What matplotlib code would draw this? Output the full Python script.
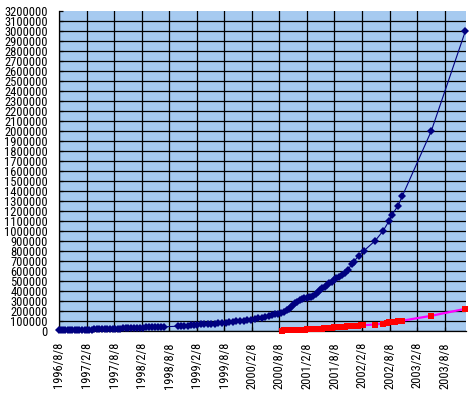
#!/usr/bin/env python
# -*- coding: utf-8 -*-
"""Recreate the two-series growth chart (Excel-style date axis) and export out.png."""

from datetime import date

import matplotlib

matplotlib.use("Agg")
import matplotlib.pyplot as plt

FONT_FAMILY = ["Roboto Condensed", "Archivo Narrow", "DejaVu Sans"]
FONT_SIZE = 9.0
PLOT_BG = "#A6CAF0"

# ---- data ----
BLUE_DATES = [
    "1996-08-08", "1996-08-20", "1996-09-05", "1996-09-20", "1996-10-05", "1996-10-20",
    "1996-11-05", "1996-11-20", "1996-12-05", "1996-12-20", "1997-01-08", "1997-01-25",
    "1997-02-10", "1997-02-25", "1997-03-12", "1997-03-28", "1997-04-15", "1997-05-01",
    "1997-05-20", "1997-06-08", "1997-06-25", "1997-07-12", "1997-07-30", "1997-08-15",
    "1997-09-01", "1997-09-18", "1997-10-05", "1997-10-25", "1997-11-10", "1997-11-28",
    "1997-12-15", "1998-01-05", "1998-01-25", "1998-02-15", "1998-03-05", "1998-03-25",
    "1998-04-15", "1998-05-05", "1998-05-25", "1998-06-15", "1998-07-05",
    "1998-10-05", "1998-10-25", "1998-11-15", "1998-12-08", "1998-12-28", "1999-01-20",
    "1999-02-10", "1999-03-05", "1999-03-28", "1999-04-20", "1999-05-15", "1999-06-08",
    "1999-07-01", "1999-07-25", "1999-08-18", "1999-09-10", "1999-10-05", "1999-10-28",
    "1999-11-20", "1999-12-15", "2000-01-08", "2000-02-01", "2000-02-25", "2000-03-20",
    "2000-04-12", "2000-05-05", "2000-05-28", "2000-06-20", "2000-07-12", "2000-08-01",
    "2000-08-20", "2000-09-08", "2000-09-25", "2000-10-10", "2000-10-25", "2000-11-08",
    "2000-11-22", "2000-12-05", "2000-12-20", "2001-01-05", "2001-01-20", "2001-02-05",
    "2001-02-20", "2001-03-08", "2001-03-22", "2001-04-05", "2001-04-20", "2001-05-05",
    "2001-05-20", "2001-06-05", "2001-06-20", "2001-07-05", "2001-07-20", "2001-08-05",
    "2001-08-20", "2001-09-05", "2001-09-25", "2001-10-15", "2001-11-08", "2001-12-01",
    "2001-12-15", "2002-01-15", "2002-02-20", "2002-05-05", "2002-06-26", "2002-08-06",
    "2002-08-26", "2002-10-04", "2002-11-02", "2003-05-12", "2003-12-24",
]
BLUE_VALUES = [
    8000, 9000, 9000, 10000, 10000, 11000,
    11000, 12000, 12000, 13000, 13000, 14000,
    14000, 15000, 15000, 16000, 18000, 19000,
    20000, 20000, 21000, 22000, 22000, 23000,
    24000, 25000, 26000, 28000, 30000, 31000,
    32000, 33000, 34000, 35000, 36000, 37000,
    38000, 39000, 40000, 41000, 42000,
    48000, 50000, 52000, 55000, 57000, 60000,
    63000, 66000, 68000, 70000, 72000, 75000,
    78000, 80000, 84000, 88000, 92000, 96000,
    100000, 105000, 110000, 115000, 122000, 128000,
    135000, 142000, 150000, 158000, 166000, 175000,
    185000, 195000, 208000, 222000, 240000, 258000,
    278000, 295000, 310000, 322000, 332000, 335000,
    340000, 345000, 355000, 372000, 392000, 410000,
    428000, 445000, 462000, 478000, 495000, 512000,
    530000, 545000, 562000, 585000, 612000, 675000,
    695000, 752000, 803000, 903000, 1000000, 1103000,
    1165000, 1255000, 1353000, 2000000, 3000000,
]

RED_DATES = [
    "2000-08-25", "2000-09-10", "2000-09-25", "2000-10-10", "2000-10-25", "2000-11-10",
    "2000-11-25", "2000-12-10", "2000-12-25", "2001-01-10", "2001-01-25", "2001-02-10",
    "2001-02-25", "2001-03-12", "2001-03-28", "2001-04-12", "2001-04-28", "2001-05-15",
    "2001-06-01", "2001-06-18", "2001-07-05", "2001-07-22", "2001-08-08", "2001-08-25",
    "2001-09-10", "2001-09-28", "2001-10-15", "2001-11-01", "2001-11-18", "2001-12-05",
    "2001-12-22", "2002-01-10", "2002-01-28", "2002-02-13", "2002-05-05", "2002-06-28",
    "2002-07-20", "2002-08-02", "2002-08-25", "2002-09-16", "2002-10-05", "2002-10-31",
    "2003-05-12", "2003-12-24",
]
RED_VALUES = [
    5000, 6000, 7000, 8000, 9000, 10000,
    11000, 12000, 13000, 14000, 15000, 16000,
    17000, 18000, 19000, 20000, 22000, 24000,
    26000, 28000, 30000, 33000, 36000, 38000,
    40000, 42000, 44000, 46000, 48000, 50000,
    52000, 54000, 56000, 58000, 65000, 75000,
    82000, 87000, 92000, 95000, 98000, 103000,
    152000, 222000,
]

X_TICK_LABELS = [
    "1996/8/8", "1997/2/8", "1997/8/8", "1998/2/8", "1998/8/8", "1999/2/8",
    "1999/8/8", "2000/2/8", "2000/8/8", "2001/2/8", "2001/8/8", "2002/2/8",
    "2002/8/8", "2003/2/8", "2003/8/8",
]
Y_TICKS = list(range(0, 3200001, 100000))
X_START = "1996-08-08"
X_END = "2003-12-28"


def to_dates(strings):
    return [date.fromisoformat(s) for s in strings]


def label_to_date(label):
    y, m, d = (int(p) for p in label.split("/"))
    return date(y, m, d)


def main() -> None:
    plt.rcParams["font.family"] = FONT_FAMILY
    plt.rcParams["font.size"] = FONT_SIZE

    fig = plt.figure(figsize=(4.71, 3.97), dpi=100)
    ax = fig.add_axes([59 / 471, (397 - 331) / 397, 407 / 471, 320 / 397])
    ax.set_facecolor(PLOT_BG)

    ax.plot(
        to_dates(BLUE_DATES), BLUE_VALUES,
        color="#000080", linewidth=0.8, marker="D", markersize=4.2,
        markeredgewidth=0, zorder=4, clip_on=False,
    )
    ax.plot(
        to_dates(RED_DATES), RED_VALUES,
        color="#FF00FF", linewidth=1.6, marker="s", markersize=4.4,
        markerfacecolor="#FF0000", markeredgewidth=0, zorder=5, clip_on=False,
    )

    ax.set_xlim(date.fromisoformat(X_START), date.fromisoformat(X_END))
    ax.set_ylim(0, Y_TICKS[-1])

    xticks = [label_to_date(t) for t in X_TICK_LABELS]
    ax.set_xticks(xticks)
    ax.set_xticklabels(X_TICK_LABELS, rotation=90)
    ax.set_yticks(Y_TICKS)
    ax.set_yticklabels([str(v) for v in Y_TICKS])

    ax.set_axisbelow(True)
    ax.grid(True, color="black", linewidth=0.9)
    # Excel draws no gridline along the top edge
    ax.yaxis.get_major_ticks()[-1].gridline.set_visible(False)

    for side in ("top", "right"):
        ax.spines[side].set_visible(False)
    for side in ("left", "bottom"):
        ax.spines[side].set_linewidth(0.9)
        ax.spines[side].set_zorder(3)

    ax.tick_params(axis="both", direction="in", length=3, width=0.9,
                   labelsize=FONT_SIZE, pad=8)

    fig.savefig("out.png", dpi=100)


if __name__ == "__main__":
    main()
